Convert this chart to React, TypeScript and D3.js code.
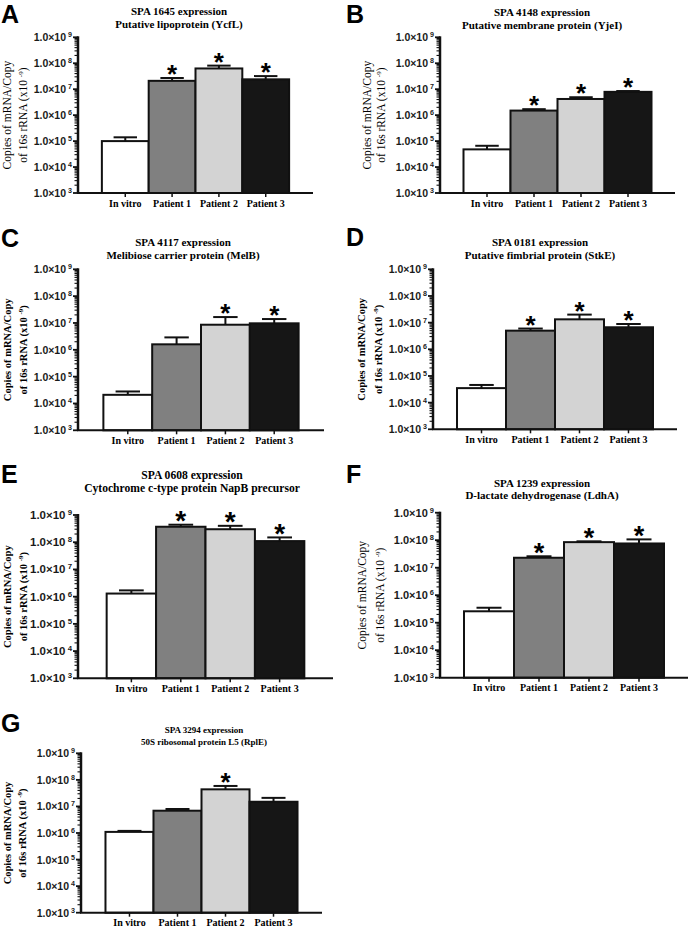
import { useEffect, useRef } from 'react'
import * as d3 from 'd3'

const categories = ['In vitro', 'Patient 1', 'Patient 2', 'Patient 3']
const barColors = ['#ffffff', '#808080', '#d3d3d3', '#161616']
const letters = ['A', 'B', 'C', 'D', 'E', 'F', 'G']
const genes = ['SPA 1645 expression', 'SPA 4148 expression', 'SPA 4117 expression', 'SPA 0181 expression', 'SPA 0608 expression', 'SPA 1239 expression', 'SPA 3294 expression']
const proteins = ['Putative lipoprotein (YcfL)', 'Putative membrane protein (YjeI)', 'Melibiose carrier protein (MelB)', 'Putative fimbrial protein (StkE)', 'Cytochrome c-type protein NapB precursor', 'D-lactate dehydrogenase (LdhA)', '50S ribosomal protein L5 (RplE)']

// bar heights (copies, log axis)
const means = [
  [1.0e5, 2.1e7, 6.3e7, 2.4e7],
  [4.8e4, 1.5e6, 4.2e6, 7.9e6],
  [2.1e4, 1.6e6, 8.6e6, 9.7e6],
  [3.5e4, 5.0e6, 1.33e7, 6.7e6],
  [1.3e6, 3.7e8, 3.0e8, 1.1e8],
  [2.6e5, 2.3e7, 8.5e7, 7.6e7],
  [1.1e6, 6.9e6, 4.4e7, 1.5e7],
]
// top of the error bars
const upper = [
  [1.4e5, 2.7e7, 8.1e7, 3.2e7],
  [6.6e4, 1.7e6, 4.9e6, 8.5e6],
  [2.8e4, 2.9e6, 1.66e7, 1.4e7],
  [4.6e4, 6.0e6, 2.0e7, 8.9e6],
  [1.7e6, 4.4e8, 4.0e8, 1.5e8],
  [3.5e5, 2.6e7, 9.1e7, 1.07e8],
  [1.2e6, 8.0e6, 5.9e7, 2.1e7],
]
const stars = [
  [0, 1, 1, 1],
  [0, 1, 1, 1],
  [0, 0, 1, 1],
  [0, 1, 1, 1],
  [0, 1, 1, 1],
  [0, 1, 1, 1],
  [0, 0, 1, 0],
]
const tickExponents = [3, 4, 5, 6, 7, 8, 9]

// where each panel sits on the page
const layout = [
  { lx: 1, ly: 23, ax: 78, ax2: 313, y9: 37.3, y3: 193, cx: 179, t1: 15, t2: 27.5, tfs: 11, outer: 0.51, bold: false, l1: 67, l2: 51.5, tk: 10.5, st: 26 },
  { lx: 346, ly: 23, ax: 440, ax2: 675, y9: 37.3, y3: 193, cx: 542, t1: 16, t2: 28.5, tfs: 11, outer: 0.5, bold: false, l1: 69.5, l2: 55.5, tk: 10.5, st: 26 },
  { lx: 1, ly: 247, ax: 78, ax2: 324, y9: 269.3, y3: 430.3, cx: 183, t1: 246, t2: 258.5, tfs: 11, outer: 0.52, bold: true, l1: 67, l2: 51, tk: 10.5, st: 26 },
  { lx: 346, ly: 246, ax: 433, ax2: 677, y9: 269.3, y3: 429.3, cx: 540, t1: 246, t2: 258.5, tfs: 11, outer: 0.49, bold: true, l1: 68.5, l2: 51.5, tk: 10.5, st: 26 },
  { lx: 1, ly: 483, ax: 78, ax2: 333, y9: 515, y3: 678.3, cx: 192, t1: 479, t2: 492, tfs: 11.6, outer: 0.58, bold: true, l1: 67.5, l2: 51.5, tk: 11.5, st: 28 },
  { lx: 346, ly: 483, ax: 440, ax2: 688, y9: 512.7, y3: 677.7, cx: 542, t1: 486.7, t2: 499, tfs: 11, outer: 0.48, bold: false, l1: 74.5, l2: 56.5, tk: 11, st: 27 },
  { lx: 1, ly: 731.5, ax: 81, ax2: 322, y9: 753.3, y3: 912.7, cx: 204, t1: 733, t2: 745, tfs: 9, outer: 0.51, bold: true, l1: 70, l2: 55, tk: 10.5, st: 26 },
]

const sans = '"Liberation Sans", Arial, sans-serif'
const serif = '"Liberation Serif", "Times New Roman", serif'

const App = () => {
  const ref = useRef<SVGSVGElement>(null)
  const width = 690
  const height = 927

  useEffect(() => {
    if (!ref.current) return
    const svg = d3.select(ref.current)
    svg.selectAll('*').remove()

    layout.forEach((L, p) => {
      const g = svg.append('g')
      const y = d3.scaleLog().domain([1e3, 1e9]).range([L.y3, L.y9])
      const x = d3.scaleBand().domain(categories).range([L.ax, L.ax2]).paddingInner(0).paddingOuter(L.outer)
      const bw = x.bandwidth()

      g.append('text')
        .attr('x', L.lx).attr('y', L.ly)
        .style('font-family', sans).style('font-weight', 'bold').style('font-size', '25px')
        .text(letters[p])

      g.append('text')
        .attr('x', L.cx).attr('y', L.t1).attr('text-anchor', 'middle')
        .style('font-family', serif).style('font-weight', 'bold').style('font-size', L.tfs + 'px')
        .text(genes[p])
      g.append('text')
        .attr('x', L.cx).attr('y', L.t2).attr('text-anchor', 'middle')
        .style('font-family', serif).style('font-weight', 'bold').style('font-size', L.tfs + 'px')
        .text(proteins[p])

      // bars
      g.selectAll('rect.bar')
        .data(means[p]).enter().append('rect')
        .attr('class', 'bar')
        .attr('x', (d, i) => x(categories[i]))
        .attr('y', d => y(d))
        .attr('width', bw)
        .attr('height', d => L.y3 - y(d))
        .attr('fill', (d, i) => barColors[i])
        .attr('stroke', '#111')
        .attr('stroke-width', 2)

      // error bars, upper half only
      upper[p].forEach((u, i) => {
        const cx = x(categories[i]) + bw / 2
        g.append('line')
          .attr('x1', cx).attr('x2', cx)
          .attr('y1', y(means[p][i])).attr('y2', y(u))
          .attr('stroke', '#111').attr('stroke-width', 2)
        g.append('line')
          .attr('x1', cx - bw / 4).attr('x2', cx + bw / 4)
          .attr('y1', y(u)).attr('y2', y(u))
          .attr('stroke', '#111').attr('stroke-width', 2)
        if (stars[p][i]) {
          g.append('text')
            .attr('x', cx).attr('y', y(u) + L.st * 0.2).attr('text-anchor', 'middle')
            .style('font-family', sans).style('font-weight', 'bold').style('font-size', L.st + 'px')
            .text('*')
        }
      })

      // y axis
      g.append('line')
        .attr('x1', L.ax).attr('x2', L.ax).attr('y1', L.y9 - 1).attr('y2', L.y3)
        .attr('stroke', '#111').attr('stroke-width', 2.5)
      y.ticks().forEach(t => {
        const major = Math.abs(Math.log10(t) - Math.round(Math.log10(t))) < 1e-9
        g.append('line')
          .attr('x1', L.ax - (major ? 5 : 3.5)).attr('x2', L.ax)
          .attr('y1', y(t)).attr('y2', y(t))
          .attr('stroke', '#111').attr('stroke-width', major ? 1.8 : 1.1)
      })
      tickExponents.forEach(e => {
        const t = g.append('text')
          .attr('x', L.ax - 6).attr('y', y(Math.pow(10, e)) + 4).attr('text-anchor', 'end')
          .style('font-family', sans).style('font-weight', 'bold').style('font-size', L.tk + 'px')
          .style('fill', '#1a1a1a')
        t.append('tspan').text('1.0×10')
        t.append('tspan').attr('dy', -4).style('font-size', (L.tk * 0.68) + 'px').text(' ' + e)
      })

      // x axis
      g.append('line')
        .attr('x1', L.ax - 1).attr('x2', L.ax2).attr('y1', L.y3).attr('y2', L.y3)
        .attr('stroke', '#111').attr('stroke-width', 2)
      categories.forEach(c => {
        const cx = x(c) + bw / 2
        g.append('line')
          .attr('x1', cx).attr('x2', cx).attr('y1', L.y3).attr('y2', L.y3 + 4)
          .attr('stroke', '#111').attr('stroke-width', 1.5)
        g.append('text')
          .attr('x', cx).attr('y', L.y3 + 13.5).attr('text-anchor', 'middle')
          .style('font-family', serif).style('font-weight', 'bold').style('font-size', '10px')
          .text(c)
      })

      // y axis title, two rotated lines
      const mid = (L.y9 + L.y3) / 2
      const lab = g.append('g')
        .attr('transform', `translate(${L.ax - L.l1},${mid}) rotate(-90)`)
        .style('font-family', serif).style('font-size', L.bold ? '10.5px' : '11.5px')
        .style('font-weight', L.bold ? 'bold' : 'normal')
      lab.append('text').attr('text-anchor', 'middle').text('Copies of mRNA/Copy')
      const l2 = lab.append('text').attr('text-anchor', 'middle').attr('y', L.l1 - L.l2)
      l2.append('tspan').text('of 16s rRNA (x10 ')
      l2.append('tspan').attr('dy', -4).style('font-size', '7px').text('-9')
      l2.append('tspan').attr('dy', 4).text(')')
    })
  }, [])

  return (
    <svg
      ref={ref}
      width={width}
      height={height}
      style={{ position: 'absolute', left: 0, top: 0, background: '#fff' }}
    />
  )
}

export default App
